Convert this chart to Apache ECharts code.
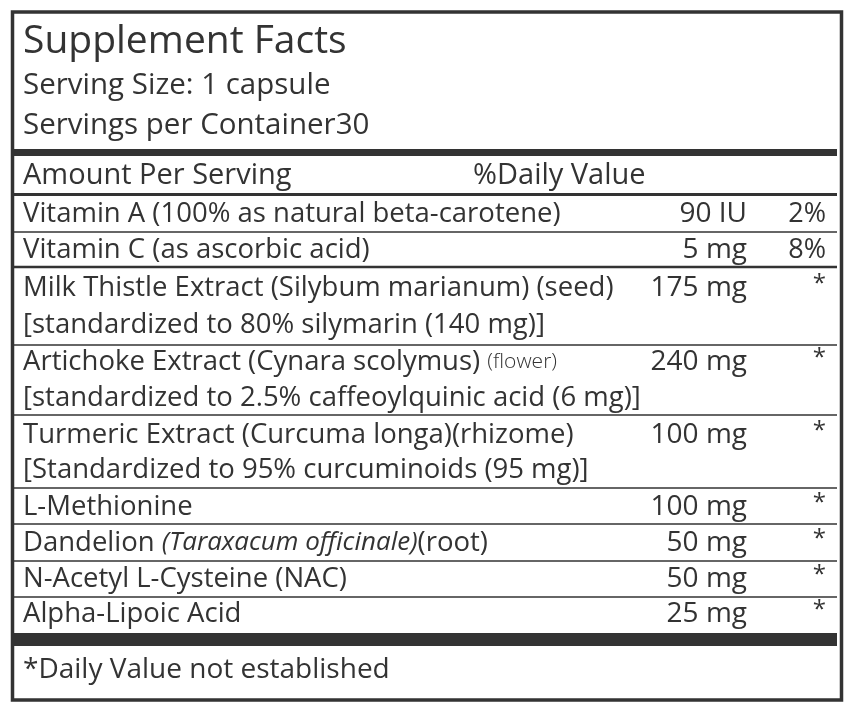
<!DOCTYPE html>
<html><head><meta charset="utf-8">
<script src="https://cdn.jsdelivr.net/npm/echarts@6/dist/echarts.min.js"></script>
<style>html,body{margin:0;padding:0;background:#fff}#c{width:850px;height:715px}</style>
</head><body><div id="c"></div>
<script>
const title = "Supplement Facts";
const servingSize = "Serving Size: 1 capsule";
const servingsPer = "Servings per Container30";
const headerLeft = "Amount Per Serving";
const headerRight = "%Daily Value";
const names = [
  "Vitamin A (100% as natural beta-carotene)",
  "Vitamin C (as ascorbic acid)",
  "Milk Thistle Extract (Silybum marianum) (seed)",
  "Artichoke Extract (Cynara scolymus) {s|(flower)}",
  "Turmeric Extract (Curcuma longa)(rhizome)",
  "L-Methionine",
  "Dandelion {i|(Taraxacum officinale)}(root)",
  "N-Acetyl L-Cysteine (NAC)",
  "Alpha-Lipoic Acid"
];
const subNotes = ["", "", "[standardized to 80% silymarin (140 mg)]",
  "[standardized to 2.5% caffeoylquinic acid (6 mg)]",
  "[Standardized to 95% curcuminoids (95 mg)]", "", "", "", ""];
const amounts = ["90 IU", "5 mg", "175 mg", "240 mg", "100 mg", "100 mg", "50 mg", "50 mg", "25 mg"];
const dailyValues = ["2%", "8%", "*", "*", "*", "*", "*", "*", "*"];
const footnote = "*Daily Value not established";

const C = '#333';
const F = '"Open Sans", sans-serif';
const rowY = [214, 250, 288, 362, 435, 507, 543, 579, 614];
const subY = [0, 0, 325, 398, 470, 0, 0, 0, 0];
const lineY = [232, 267, 345, 415, 488, 524, 561, 597];
const lineW = [1.5, 2.5, 1.5, 1.5, 1.5, 1.5, 1.5, 1.5];
const els = [];
function txt(x, y, t, size, align, rich) {
  els.push({type: 'text', x: x, y: y, style: {text: t, fill: C, font: size + 'px ' + F,
    fontSize: size, fontFamily: F, align: align || 'left', verticalAlign: 'middle', rich: rich || {}}});
}
function rect(x, y, w, h) { els.push({type: 'rect', shape: {x: x, y: y, width: w, height: h}, style: {fill: C}}); }
els.push({type: 'rect', shape: {x: 12.5, y: 12, width: 829, height: 688}, style: {fill: 'none', stroke: C, lineWidth: 3.5}});
txt(23, 42, title, 39);
txt(23, 86, servingSize, 29.5);
txt(23, 126, servingsPer, 29.5);
rect(14, 149, 823, 7);
txt(23, 176, headerLeft, 29);
txt(473, 176, headerRight, 29);
rect(14, 193, 823, 3);
const rich = {s: {fontSize: 21, fontFamily: F, fill: C, fontWeight: 300}, i: {fontSize: 26, fontFamily: F, fill: C, fontStyle: 'italic'}};
names.forEach((n, k) => {
  txt(23, rowY[k], n, 27.5, 'left', rich);
  txt(747, rowY[k], amounts[k], 28, 'right');
  txt(826, rowY[k] - (dailyValues[k] === '*' ? 4 : 0), dailyValues[k], dailyValues[k] === '*' ? 24 : 27, 'right');
  if (subNotes[k]) txt(23, subY[k], subNotes[k], 27.5);
});
lineY.forEach((y, k) => rect(14, y - lineW[k] / 2, 823, lineW[k]));
rect(14, 633, 823, 13);
txt(23, 670, footnote, 28);
const chart = echarts.init(document.getElementById('c'));
chart.setOption({animation: false, graphic: {elements: els}});
</script></body></html>
